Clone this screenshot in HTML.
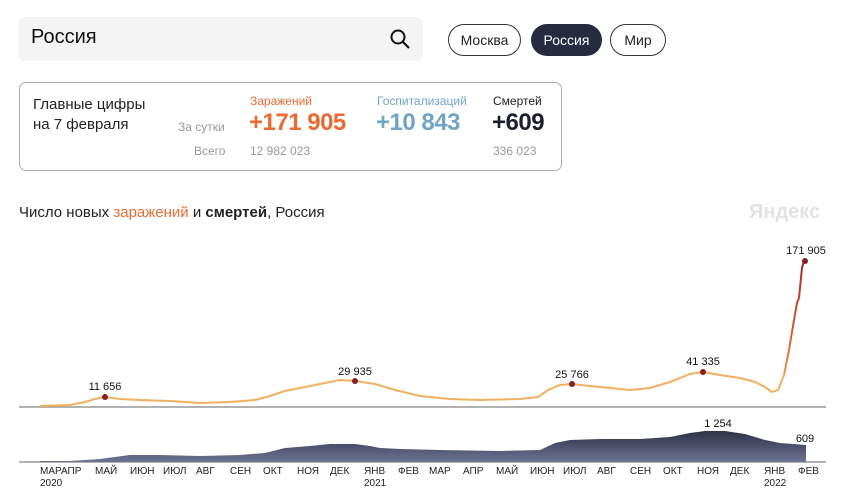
<!DOCTYPE html>
<html><head><meta charset="utf-8"><style>
body{margin:0;width:849px;height:497px;background:#fff;font-family:"Liberation Sans","Noto Sans CJK SC",sans-serif;position:relative;overflow:hidden;color:#222}
.a{position:absolute;white-space:nowrap}
</style></head><body>
<div class="a" style="left:18px;top:17px;width:405px;height:44px;background:#f4f4f4;border-radius:7px"></div>
<div class="a" style="left:31px;top:26px;font-size:20px;color:#111">Россия</div>
<svg class="a" style="left:389px;top:28px" width="24" height="24"><circle cx="9" cy="9" r="6.5" fill="none" stroke="#111" stroke-width="2"/><line x1="14" y1="14" x2="20" y2="20" stroke="#111" stroke-width="2.2"/></svg>
<div class="a" style="left:448px;top:24px;width:71px;height:30px;border:1px solid #333;border-radius:16px;font-size:14px;line-height:30px;text-align:center">Москва</div>
<div class="a" style="left:531px;top:24px;width:71px;height:32px;background:#262b40;color:#fff;border-radius:16px;font-size:14px;line-height:32px;text-align:center">Россия</div>
<div class="a" style="left:610px;top:24px;width:54px;height:30px;border:1px solid #333;border-radius:16px;font-size:14px;line-height:30px;text-align:center">Мир</div>
<div class="a" style="left:19px;top:82px;width:541px;height:87px;border:1px solid #a8adb8;border-radius:7px"></div>
<div class="a" style="left:33px;top:95px;font-size:15px;line-height:20px;color:#222">Главные цифры<br>на 7 февраля</div>
<div class="a" style="left:178px;top:120px;font-size:12px;color:#999">За сутки</div>
<div class="a" style="left:194px;top:144px;font-size:12px;color:#999">Всего</div>
<div class="a" style="left:250px;top:94px;font-size:12px;color:#ea6b32">Заражений</div>
<div class="a" style="left:249px;top:109px;font-size:24px;font-weight:bold;color:#ea6b32;letter-spacing:-0.5px">+171 905</div>
<div class="a" style="left:250px;top:144px;font-size:12px;color:#999">12 982 023</div>
<div class="a" style="left:377px;top:94px;font-size:12px;color:#6fa3c8">Госпитализаций</div>
<div class="a" style="left:376px;top:109px;font-size:24px;font-weight:bold;color:#6fa3c8;letter-spacing:-0.5px">+10 843</div>
<div class="a" style="left:493px;top:94px;font-size:12px;color:#222">Смертей</div>
<div class="a" style="left:492px;top:109px;font-size:24px;font-weight:bold;color:#1a1f30;letter-spacing:-0.5px">+609</div>
<div class="a" style="left:493px;top:144px;font-size:12px;color:#999">336 023</div>
<div class="a" style="left:19px;top:204px;font-size:15px">Число новых <span style="color:#ea6b32">заражений</span> и <b>смертей</b>, Россия</div>
<div class="a" style="left:749px;top:201px;font-size:20px;font-weight:bold;color:#e2e2e2">Яндекс</div>
<svg class="a" style="left:0;top:0" width="849" height="497">
<defs><linearGradient id="g" gradientUnits="userSpaceOnUse" x1="0" y1="428" x2="0" y2="462"><stop offset="0" stop-color="#262b40"/><stop offset="1" stop-color="#6e7494"/></linearGradient>
<linearGradient id="r" gradientUnits="userSpaceOnUse" x1="0" y1="390" x2="0" y2="260"><stop offset="0" stop-color="#f0b060"/><stop offset="0.4" stop-color="#d8602e"/><stop offset="1" stop-color="#a52828"/></linearGradient></defs>
<line x1="19" y1="407" x2="826" y2="407" stroke="#999" stroke-width="1.5"/>
<line x1="19" y1="462" x2="826" y2="462" stroke="#999" stroke-width="1.5"/>
<path d="M40,462 L40,461 L70,461 L100,459 L130,455 L160,455 L200,456 L240,455 L265,453 L285,448 L310,446 L330,444 L355,444 L370,446 L380,448 L400,449 L440,450 L500,451 L540,450 L555,443 L570,440 L600,439 L640,439 L670,437 L690,433 L705,431 L725,431 L745,434 L765,440 L780,443 L806,445 L806,462 Z" fill="url(#g)"/>
<polyline fill="none" stroke="#f0b060" stroke-width="2" points="40,406 70,405 85,402 95,399 105,397 120,399 140,400 170,401 200,403 230,402 255,400 270,396 285,391 305,387 325,383 340,380 355,381 375,384 395,390 420,396 450,399 480,400 520,399 538,397 548,390 560,385 572,384 590,386 610,388 630,390 650,388 670,382 690,374 703,372 720,375 740,378 755,382 765,387 772,392 778,390 784,375"/>
<polyline fill="none" stroke="url(#r)" stroke-width="2" points="784,375 789,350 794,320 797,303 799,298 802,268 804,261 806,261"/>
<circle cx="105" cy="397" r="3" fill="#8b1d1d"/>
<circle cx="355" cy="381" r="3" fill="#8b1d1d"/>
<circle cx="572" cy="384" r="3" fill="#8b1d1d"/>
<circle cx="703" cy="372" r="3" fill="#8b1d1d"/>
<circle cx="805" cy="261" r="3" fill="#8b1d1d"/>
<g font-size="11" fill="#111" font-family="Liberation Sans,sans-serif" text-anchor="middle">
<text x="105" y="390">11 656</text><text x="355" y="375">29 935</text><text x="572" y="378">25 766</text><text x="703" y="365">41 335</text><text x="806" y="254">171 905</text>
<text x="718" y="427">1 254</text><text x="805" y="442">609</text>
</g>
<g font-size="10" fill="#222" font-family="Liberation Sans,sans-serif">
<text x="40" y="474">МАРАПР</text><text x="40" y="486">2020</text>
<text x="95" y="474">МАЙ</text><text x="130" y="474">ИЮН</text><text x="163" y="474">ИЮЛ</text><text x="196" y="474">АВГ</text><text x="230" y="474">СЕН</text><text x="263" y="474">ОКТ</text><text x="297" y="474">НОЯ</text><text x="330" y="474">ДЕК</text>
<text x="364" y="474">ЯНВ</text><text x="364" y="486">2021</text>
<text x="398" y="474">ФЕВ</text><text x="429" y="474">МАР</text><text x="463" y="474">АПР</text><text x="496" y="474">МАЙ</text><text x="530" y="474">ИЮН</text><text x="563" y="474">ИЮЛ</text><text x="597" y="474">АВГ</text><text x="630" y="474">СЕН</text><text x="663" y="474">ОКТ</text><text x="697" y="474">НОЯ</text><text x="730" y="474">ДЕК</text>
<text x="764" y="474">ЯНВ</text><text x="764" y="486">2022</text><text x="798" y="474">ФЕВ</text>
</g>
</svg>
</body></html>
